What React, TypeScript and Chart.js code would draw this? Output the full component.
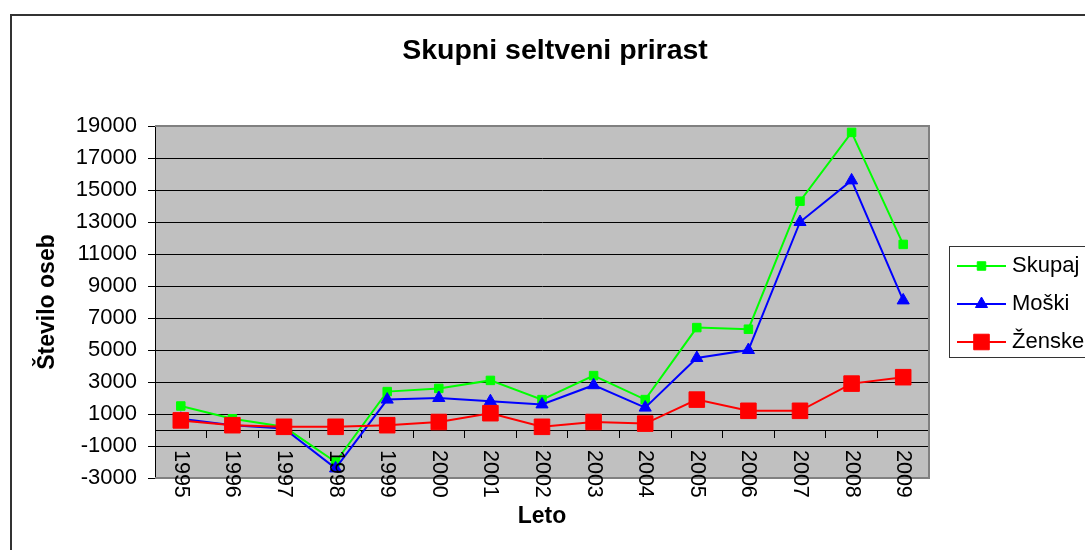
import React, { useEffect, useRef } from "react";
import { Chart, registerables } from "chart.js";

Chart.register(...registerables);

const chartTitle = "Skupni seltveni prirast";
const xTitle = "Leto";
const yTitle = "Število oseb";

const years = ["1995", "1996", "1997", "1998", "1999", "2000", "2001", "2002", "2003", "2004", "2005", "2006", "2007", "2008", "2009"];
const skupaj = [1500, 700, 200, -2000, 2400, 2600, 3100, 1900, 3400, 1900, 6400, 6300, 14300, 18600, 11600];
const moski = [700, 300, 100, -2400, 1900, 2000, 1800, 1600, 2800, 1400, 4500, 5000, 13000, 15600, 8100];
const zenske = [600, 300, 200, 200, 300, 500, 1050, 200, 500, 400, 1900, 1200, 1200, 2900, 3300];

const seriesNames = ["Skupaj", "Moški", "Ženske"];
const yMin = -3000;
const yMax = 19000;
const yStep = 2000;

const FONT = "'Liberation Sans', Arial, Helvetica, sans-serif";

type Marker = { color: string; style: "rect" | "triangle"; radius: number };
const markers: Marker[] = [
  { color: "#00FF00", style: "rect", radius: 6 },
  { color: "#0000FF", style: "triangle", radius: 7 },
  { color: "#FF0000", style: "rect", radius: 11 },
];

function drawMarker(ctx: CanvasRenderingContext2D, m: Marker, x: number, y: number) {
  ctx.save();
  ctx.fillStyle = m.color;
  ctx.strokeStyle = m.color;
  ctx.lineWidth = 1;
  ctx.beginPath();
  if (m.style === "rect") {
    const s = m.radius * Math.SQRT1_2;
    ctx.rect(x - s, y - s, 2 * s, 2 * s);
  } else {
    const r = m.radius;
    ctx.moveTo(x, y - r);
    ctx.lineTo(x + r * Math.sin(Math.PI * 2 / 3), y - r * Math.cos(Math.PI * 2 / 3));
    ctx.lineTo(x + r * Math.sin(Math.PI * 4 / 3), y - r * Math.cos(Math.PI * 4 / 3));
    ctx.closePath();
  }
  ctx.fill();
  ctx.stroke();
  ctx.restore();
}

const decor = {
  id: "decor",
  beforeDraw(chart: any) {
    const { ctx, chartArea: a } = chart;
    ctx.save();
    ctx.fillStyle = "#FFFFFF";
    ctx.fillRect(0, 0, chart.width, chart.height);
    ctx.strokeStyle = "#333333";
    ctx.lineWidth = 2;
    ctx.strokeRect(11, 15, 1120, 545);
    ctx.fillStyle = "#C0C0C0";
    ctx.fillRect(a.left, a.top, a.right - a.left, a.bottom - a.top);
    ctx.restore();
  },
  beforeDatasetsDraw(chart: any) {
    const { ctx, chartArea: a } = chart;
    ctx.save();
    ctx.strokeStyle = "#808080";
    ctx.lineWidth = 2;
    ctx.beginPath();
    ctx.moveTo(a.left, a.top);
    ctx.lineTo(a.right, a.top);
    ctx.lineTo(a.right, a.bottom);
    ctx.lineTo(a.left, a.bottom);
    ctx.stroke();
    ctx.restore();
  },
  afterDraw(chart: any) {
    const { ctx, chartArea: a } = chart;
    const xs = chart.scales.x;
    const ys = chart.scales.y;
    ctx.save();
    // title
    ctx.fillStyle = "#000";
    ctx.font = `bold 28.5px ${FONT}`;
    ctx.textAlign = "center";
    ctx.textBaseline = "middle";
    ctx.fillText(chartTitle, 555, 51);

    // x labels rotated clockwise
    const y0 = ys.getPixelForValue(0) + 20;
    ctx.font = `21.5px ${FONT}`;
    years.forEach((lab, i) => {
      const x = xs.getPixelForValue(i);
      ctx.save();
      ctx.translate(x, y0);
      ctx.rotate(Math.PI / 2);
      ctx.textAlign = "left";
      ctx.textBaseline = "middle";
      ctx.fillText(lab, 0, 0);
      ctx.restore();
    });

    // x title
    ctx.font = `bold 23px ${FONT}`;
    ctx.textAlign = "center";
    ctx.textBaseline = "middle";
    ctx.fillText(xTitle, (a.left + a.right) / 2, 517);

    // legend
    ctx.strokeStyle = "#333333";
    ctx.lineWidth = 1;
    ctx.strokeRect(949.5, 246.5, 200, 111);
    const rows = [266, 304, 342];
    seriesNames.forEach((name, i) => {
      const m = markers[i];
      const yy = rows[i];
      ctx.strokeStyle = m.color;
      ctx.lineWidth = 2;
      ctx.beginPath();
      ctx.moveTo(957, yy);
      ctx.lineTo(1006, yy);
      ctx.stroke();
      drawMarker(ctx, m, 981.5, yy);
      ctx.fillStyle = "#000";
      ctx.font = `22px ${FONT}`;
      ctx.textAlign = "left";
      ctx.textBaseline = "middle";
      ctx.fillText(name, 1012, yy);
    });
    ctx.restore();
  },
};

export default function App() {
  const ref = useRef<HTMLCanvasElement>(null);
  useEffect(() => {
    const canvas = ref.current;
    if (!canvas) return;
    const values = [skupaj, moski, zenske];
    const orders = [2, 1, 0];
    const chart = new Chart(canvas, {
      type: "line",
      data: {
        labels: years,
        datasets: values.map((d, i) => ({
          label: seriesNames[i],
          data: d,
          borderColor: markers[i].color,
          backgroundColor: markers[i].color,
          borderWidth: 2,
          pointStyle: markers[i].style,
          pointRadius: markers[i].radius,
          pointBorderWidth: 1,
          pointBorderColor: markers[i].color,
          pointBackgroundColor: markers[i].color,
          tension: 0,
          fill: false,
          order: orders[i],
          clip: false as any,
        })),
      },
      options: {
        animation: false,
        responsive: false,
        devicePixelRatio: 1,
        layout: { padding: { left: 34, top: 126, right: 156, bottom: 72 } },
        plugins: {
          legend: { display: false },
          title: { display: false },
          tooltip: { enabled: false },
        },
        scales: {
          x: {
            type: "category",
            position: { y: 0 } as any,
            offset: true,
            ticks: { display: false },
            grid: {
              display: true,
              drawOnChartArea: false,
              drawTicks: true,
              tickLength: 7,
              color: "#000",
              offset: true,
            },
            border: { display: true, color: "#000", width: 1 },
            afterFit: (s: any) => {
              s.height = 0;
            },
          },
          y: {
            type: "linear",
            min: yMin,
            max: yMax,
            ticks: {
              stepSize: yStep,
              color: "#000",
              padding: 11,
              font: { family: FONT, size: 22 },
              callback: (v: any) => String(v),
            },
            grid: { color: "#000", lineWidth: 1, drawTicks: true, tickLength: 7 },
            border: { display: true, color: "#000", width: 1 },
            title: {
              display: true,
              text: yTitle,
              color: "#000",
              padding: 0,
              font: { family: FONT, size: 23, weight: "bold" },
            },
            afterFit: (s: any) => {
              s.width = 121;
            },
          },
        },
      },
      plugins: [decor],
    });
    return () => chart.destroy();
  }, []);
  return (
    <div style={{ position: "fixed", left: 0, top: 0, width: 1085, height: 550 }}>
      <canvas ref={ref} width={1085} height={550} style={{ display: "block" }} />
    </div>
  );
}
